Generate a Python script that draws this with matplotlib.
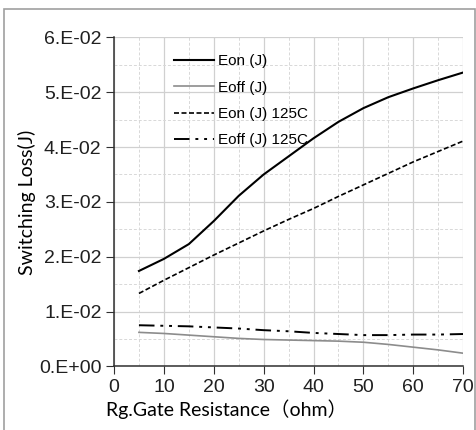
import matplotlib
matplotlib.use("Agg")
import matplotlib.pyplot as plt
from matplotlib.patches import Rectangle
from matplotlib.ticker import MultipleLocator, FuncFormatter

# Data
rg = [5, 10, 15, 20, 25, 30, 35, 40, 45, 50, 55, 60, 65, 70]
eon = [0.0174, 0.0196, 0.0223, 0.0265, 0.0311, 0.0350, 0.0383,
       0.0416, 0.0446, 0.0471, 0.0491, 0.0507, 0.0522, 0.0536]
eoff = [0.0062, 0.0060, 0.0057, 0.0054, 0.0051, 0.0049, 0.0048,
        0.0047, 0.0046, 0.0044, 0.0040, 0.0035, 0.0030, 0.0024]
eon_125 = [0.0133, 0.0157, 0.0180, 0.0203, 0.0225, 0.0247, 0.0268,
           0.0288, 0.0310, 0.0331, 0.0352, 0.0373, 0.0392, 0.0411]
eoff_125 = [0.0075, 0.0074, 0.0073, 0.0071, 0.0069, 0.0066, 0.0064,
            0.0061, 0.0059, 0.0057, 0.0057, 0.0058, 0.0058, 0.0059]

plt.rcParams["font.family"] = ["Liberation Sans", "DejaVu Sans"]
label_font = ["Lato", "Noto Sans CJK JP", "DejaVu Sans"]

fig = plt.figure(figsize=(4.77, 4.30), dpi=100)
ax = fig.add_axes([0.239, 0.148, 0.732, 0.765])

# outer chart border
fig.patches.append(Rectangle((0.008, -0.01), 0.988, 0.988, transform=fig.transFigure,
                             fill=False, edgecolor="#a0a0a0", linewidth=1.2))

ax.plot(rg, eon, color="black", lw=1.5, label="Eon (J)")
ax.plot(rg, eoff, color="#8c8c8c", lw=1.2, label="Eoff (J)")
ax.plot(rg, eon_125, color="black", lw=1.2, ls=(0, (3, 1.5)), label="Eon (J) 125C")
ax.plot(rg, eoff_125, color="black", lw=1.4, ls=(0, (8, 3, 1.5, 3, 1.5, 3)),
        label="Eoff (J) 125C")

ax.set_xlim(0, 70)
ax.set_ylim(0, 0.06)
ax.xaxis.set_major_locator(MultipleLocator(10))
ax.xaxis.set_minor_locator(MultipleLocator(5))
ax.yaxis.set_major_locator(MultipleLocator(0.01))
ax.yaxis.set_minor_locator(MultipleLocator(0.005))


def sci(v, pos):
    if abs(v) < 1e-12:
        return "0.E+00"
    return "%d.E-02" % round(v * 100)


ax.yaxis.set_major_formatter(FuncFormatter(sci))

ax.grid(which="major", color="#d0d0d0", lw=0.9)
ax.grid(which="minor", color="#d8d8d8", lw=0.7, ls=(0, (3, 2)))
ax.set_axisbelow(True)

for s in ["top", "right"]:
    ax.spines[s].set_visible(False)
for s in ["left", "bottom"]:
    ax.spines[s].set_color("#303030")
    ax.spines[s].set_linewidth(1.1)

ax.tick_params(which="major", direction="out", length=6, labelsize=14,
               color="#303030", colors="#202020", pad=3)
ax.tick_params(which="minor", length=0)

ax.set_xlabel("Rg.Gate Resistance（ohm）", fontsize=14, family=label_font,
              ha="left", va="top")
ax.xaxis.set_label_coords(-0.023, -0.1)
ax.set_ylabel("Switching Loss(J)", fontsize=14, family=label_font, labelpad=2)

ax.legend(loc="upper left", bbox_to_anchor=(0.132, 0.99), frameon=False,
          fontsize=11, handlelength=2.6, handletextpad=0.3, labelspacing=0.8)

fig.savefig("out.png", dpi=100)
